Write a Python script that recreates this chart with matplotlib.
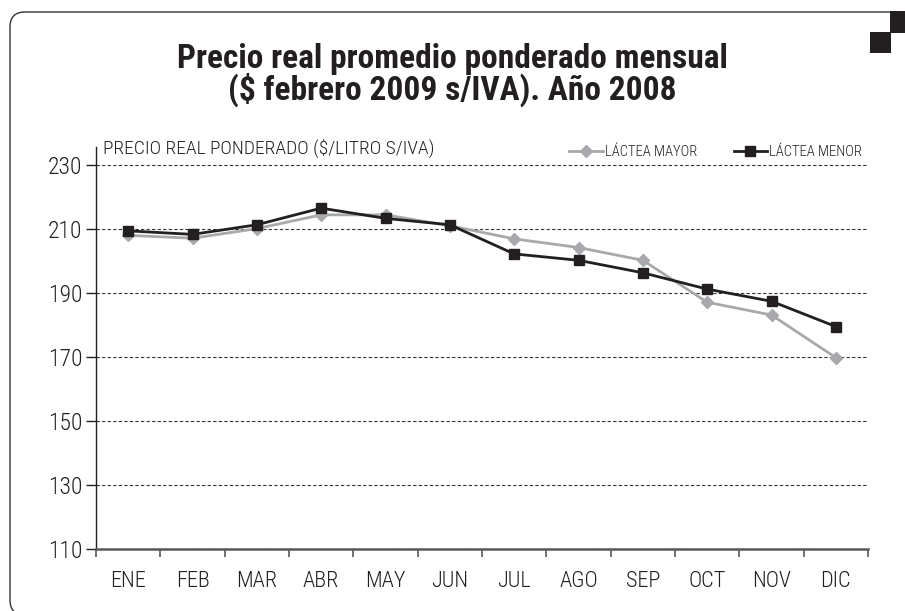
import matplotlib as mpl
mpl.use('Agg')

import matplotlib.pyplot as plt
import matplotlib.patches as mpatches
from matplotlib.ticker import FixedLocator, NullFormatter

# Monthly data, 2008
months = ["ENE", "FEB", "MAR", "ABR", "MAY", "JUN",
          "JUL", "AGO", "SEP", "OCT", "NOV", "DIC"]
lactea_mayor = [208.0, 207.1, 210.1, 214.4, 214.4, 211.0,
                206.9, 204.2, 200.2, 187.1, 183.1, 169.8]
lactea_menor = [209.4, 208.3, 211.3, 216.5, 213.3, 211.3,
                202.2, 200.2, 196.3, 191.2, 187.4, 179.5]
y_ticks = [110, 130, 150, 170, 190, 210, 230]

title_lines = ["Precio real promedio ponderado mensual",
               "($ febrero 2009 s/IVA). Año 2008"]
y_label = "PRECIO REAL PONDERADO ($/LITRO S/IVA)"

ink = "#231F20"
grey = "#A7A9AC"
axis_grey = "#58595B"

plt.rcParams['font.family'] = ["Roboto Condensed", "DejaVu Sans"]
plt.rcParams['font.weight'] = "light"

fig = plt.figure(figsize=(9.05, 6.11), dpi=100)
W, H = 905, 611

# frame around the chart (pixel coordinates)
frame = mpatches.FancyBboxPatch((10, -4), 940, 603,
                                boxstyle="round,pad=0,rounding_size=15",
                                transform=None, fill=False,
                                edgecolor="#333333", linewidth=1.0)
fig.add_artist(frame)
fig.add_artist(mpatches.Rectangle((890, 578), 16, 22, transform=None,
                                  color=ink, linewidth=0))
fig.add_artist(mpatches.Rectangle((870, 558), 21, 21, transform=None,
                                  color=ink, linewidth=0))

# title
for i, line in enumerate(title_lines):
    fig.text(0.5, 1 - (59 + 31 * i) / H, line, ha="center", va="center",
             fontsize=24, fontweight="black", color=ink)

ax = fig.add_axes([96 / W, 1 - 549 / H, (868 - 96) / W, (549 - 147) / H])

x = list(range(len(months)))
ax.plot(x, lactea_mayor, color=grey, linewidth=2.0, marker="D",
        markersize=6, label="LÁCTEA MAYOR", zorder=3)
ax.plot(x, lactea_menor, color=ink, linewidth=2.0, marker="s",
        markersize=6.5, label="LÁCTEA MENOR", zorder=4)

ax.set_xlim(-0.5, len(months) - 0.5)
ax.set_ylim(110, 235.6)

ax.set_yticks(y_ticks)
ax.set_yticklabels([str(v) for v in y_ticks])
ax.set_xticks(x)
ax.set_xticklabels(months)
ax.xaxis.set_minor_locator(FixedLocator([i - 0.5 for i in range(len(months) + 1)]))
ax.xaxis.set_minor_formatter(NullFormatter())

ax.tick_params(axis="x", which="major", length=0, pad=16, labelsize=16,
               labelcolor=ink)
ax.tick_params(axis="x", which="minor", length=6, width=1.2,
               color=axis_grey, direction="out")
ax.tick_params(axis="y", which="major", length=7, width=1.0, color=ink,
               pad=3, labelsize=17, labelcolor=ink)

ax.grid(axis="y", linestyle=(0, (3, 2)), color="#333333", linewidth=0.8)
ax.set_axisbelow(True)

for side in ("top", "right"):
    ax.spines[side].set_visible(False)
ax.spines["left"].set_color(ink)
ax.spines["left"].set_linewidth(1.0)
ax.spines["bottom"].set_color(axis_grey)
ax.spines["bottom"].set_linewidth(1.8)

fig.text(103 / W, 1 - 148 / H, y_label, ha="left", va="center",
         fontsize=14, color=ink)

ax.legend(loc="center right", bbox_to_anchor=(1.0, 1 - (152 - 147) / (549 - 147)),
          ncol=2, frameon=False, fontsize=10.5, handlelength=2.3,
          handletextpad=0.15, columnspacing=2.5, borderaxespad=0,
          labelcolor=ink)

fig.savefig("out.png", dpi=100)
plt.close()
